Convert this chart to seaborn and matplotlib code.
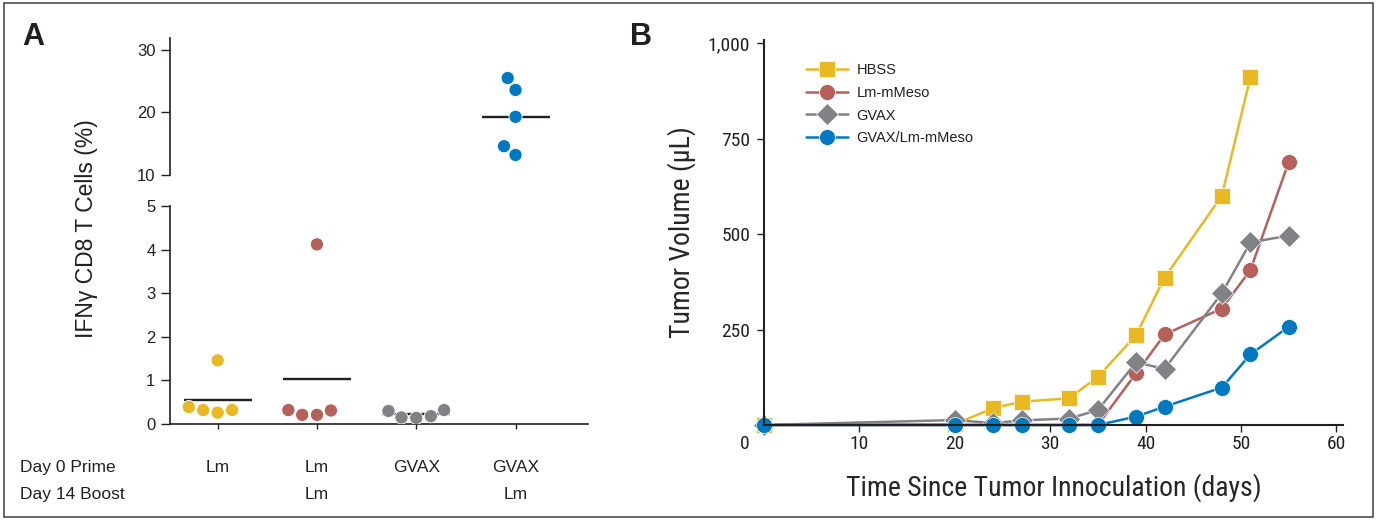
import numpy as np
import pandas as pd
import matplotlib
matplotlib.use('Agg')
import matplotlib.pyplot as plt
import matplotlib.transforms as mtransforms
from matplotlib import font_manager
from matplotlib.patches import Rectangle
from matplotlib.ticker import FuncFormatter
import seaborn as sns

# ── Panel A: IFNγ+ CD8 T cells (%) per mouse ─────────────────
groups      = ['Lm', 'Lm/Lm', 'GVAX', 'GVAX/Lm']
prime_label = ['Lm', 'Lm', 'GVAX', 'GVAX']
boost_label = ['', 'Lm', '', 'Lm']
ifn_lm      = [0.32, 0.26, 1.46, 0.32, 0.39]
ifn_lm_lm   = [0.31, 0.21, 4.12, 0.21, 0.32]
ifn_gvax    = [0.30, 0.14, 0.15, 0.18, 0.32]
ifn_gvax_lm = [25.5, 23.6, 19.3, 14.6, 13.2]

# ── Panel B: tumour volume (µL) over time ────────────────────
series_names = ['HBSS', 'Lm-mMeso', 'GVAX', 'GVAX/Lm-mMeso']
days      = [0, 20, 24, 27, 32, 35, 39, 42, 48, 51, 55]
vol_hbss  = [0, 2, 44, 61, 70, 126, 235, 386, 600, 912, np.nan]
vol_lm    = [0, 0, 0, 0, 0, 0, 135, 237, 305, 406, 688]
vol_gvax  = [0, 13, 5, 12, 17, 39, 164, 147, 345, 478, 496]
vol_combo = [0, 0, 0, 0, 0, 0, 22, 48, 98, 185, 257]

palette_a = {'Lm': '#E8B923', 'Lm/Lm': '#B5605A', 'GVAX': '#808285', 'GVAX/Lm': '#0079C1'}
palette_b = {'HBSS': '#E8B923', 'Lm-mMeso': '#B5605A', 'GVAX': '#808285', 'GVAX/Lm-mMeso': '#0079C1'}
markers_b = {'HBSS': 's', 'Lm-mMeso': 'o', 'GVAX': 'D', 'GVAX/Lm-mMeso': 'o'}

INK = '#231f20'

sns.set_style('ticks')
plt.rcParams['font.family'] = ['Liberation Sans', 'DejaVu Sans']
plt.rcParams['axes.edgecolor'] = INK
plt.rcParams['xtick.color'] = INK
plt.rcParams['ytick.color'] = INK
plt.rcParams['text.color'] = INK

# condensed face for panel B, if one is installed
cond_path = None
prefs = ['Liberation Sans Narrow', 'Roboto Condensed', 'Open Sans Condensed', 'DejaVu Sans']
for pref in prefs:
    for f in font_manager.fontManager.ttflist:
        if f.name == pref and f.style == 'normal' and f.weight in (400, 'normal', 'regular') \
                and (pref != 'DejaVu Sans' or f.stretch == 'condensed'):
            cond_path = f.fname
            break
    if cond_path:
        break


def cfont(size):
    if cond_path:
        return font_manager.FontProperties(fname=cond_path, size=size)
    return font_manager.FontProperties(family='Liberation Sans', size=size * 0.92)


W, H = 1379, 521
fig = plt.figure(figsize=(W / 100, H / 100), dpi=100)


def px_axes(left, top, right, bottom):
    return fig.add_axes([left / W, (H - bottom) / H, (right - left) / W, (bottom - top) / H])


# ── Panel A (broken y axis) ──────────────────────────────────
df_a = pd.DataFrame({
    'group': np.repeat(groups, 5),
    'value': ifn_lm + ifn_lm_lm + ifn_gvax + ifn_gvax_lm,
})

ax_top = px_axes(170, 38, 588, 175)
ax_bot = px_axes(170, 206, 588, 424)

for ax, sub in [(ax_top, df_a[df_a.value >= 10]), (ax_bot, df_a[df_a.value < 10])]:
    sns.pointplot(data=df_a, x='group', y='value', order=groups, estimator='mean',
                  errorbar=None, color=INK, marker='_', linestyle='none',
                  markersize=49, markeredgewidth=1.7, zorder=2, ax=ax)
    sns.swarmplot(data=sub, x='group', y='value', hue='group', order=groups,
                  hue_order=groups, palette=palette_a, size=9.5, edgecolor='white',
                  linewidth=0.6, legend=False, zorder=3, ax=ax)
    ax.set_xlim(-0.48, 3.73)
    ax.set_xlabel('')
    ax.set_ylabel('')
    ax.spines['top'].set_visible(False)
    ax.spines['right'].set_visible(False)
    ax.spines['left'].set_linewidth(1.2)
    ax.spines['bottom'].set_linewidth(1.2)
    ax.tick_params(axis='y', direction='out', length=6.5, width=1.0, pad=4, labelsize=12)

ax_top.set_ylim(10, 31.9)
ax_top.set_yticks([10, 20, 30])
ax_top.spines['bottom'].set_visible(False)
ax_top.tick_params(axis='x', bottom=False, labelbottom=False)

ax_bot.set_ylim(0, 5)
ax_bot.set_yticks([0, 1, 2, 3, 4, 5])
tick_len_pt, tick_pad_pt = 3.6, 22
row_fs, row_ls = 12.5, 2.05
ax_bot.set_xticks(range(len(groups)),
                  labels=[f'{p}\n{b}' for p, b in zip(prime_label, boost_label)])
ax_bot.tick_params(axis='x', direction='out', length=tick_len_pt, width=1.0, pad=tick_pad_pt)
for lbl in ax_bot.get_xticklabels():
    lbl.set_fontsize(row_fs)
    lbl.set_linespacing(row_ls)

row_tf = mtransforms.blended_transform_factory(fig.transFigure, ax_bot.transAxes) + \
    mtransforms.ScaledTranslation(0, -(tick_len_pt + tick_pad_pt) / 72, fig.dpi_scale_trans)
ax_bot.text(20 / W, 0, 'Day 0 Prime\nDay 14 Boost', transform=row_tf, ha='left', va='top',
            fontsize=row_fs, linespacing=row_ls, clip_on=False)

fig.text(86 / W, 1 - 229 / H, 'IFNγ CD8 T Cells (%)', rotation=90,
         ha='center', va='center', fontsize=16.5)
fig.text(22 / W, 1 - 45 / H, 'A', fontsize=22, fontweight='bold', va='baseline')

# ── Panel B ──────────────────────────────────────────────────
df_b = pd.DataFrame({
    'day': days * 4,
    'volume': vol_hbss + vol_lm + vol_gvax + vol_combo,
    'group': np.repeat(series_names, len(days)),
}).dropna()

axb = px_axes(764, 40, 1343, 425)
sns.lineplot(data=df_b, x='day', y='volume', hue='group', style='group',
             hue_order=series_names, style_order=series_names, palette=palette_b,
             markers=markers_b, dashes=False, markersize=11.5, linewidth=1.8,
             markeredgecolor='white', markeredgewidth=0.5, clip_on=False, ax=axb)
axb.set_xlim(0, 60.7)
axb.set_ylim(0, 1008)
axb.set_xticks([0, 10, 20, 30, 40, 50, 60])
axb.set_yticks([250, 500, 750, 1000])
axb.yaxis.set_major_formatter(FuncFormatter(lambda v, _: f'{v:,.0f}'))
for side in ['top', 'right']:
    axb.spines[side].set_visible(False)
axb.spines['left'].set_linewidth(1.5)
axb.spines['bottom'].set_linewidth(1.5)
axb.tick_params(axis='y', direction='out', length=5, width=1.0, pad=5)
axb.tick_params(axis='x', direction='out', length=5, width=1.0, pad=2)
for lbl in axb.get_xticklabels() + axb.get_yticklabels():
    lbl.set_fontproperties(cfont(14))
x0 = axb.get_xticklabels()[0]
x0.set_transform(x0.get_transform() +
                 mtransforms.ScaledTranslation(-19 / 100, 0, fig.dpi_scale_trans))

axb.set_xlabel('Time Since Tumor Innoculation (days)', fontproperties=cfont(20))
axb.set_ylabel('Tumor Volume (μL)', fontproperties=cfont(20))
axb.xaxis.set_label_coords(0.5, -0.125)
axb.yaxis.set_label_coords(-0.118, 0.5)

handles, labels = axb.get_legend_handles_labels()
keep = [(h, l) for h, l in zip(handles, labels) if l in series_names]
axb.legend([h for h, _ in keep], [l for _, l in keep], loc='upper left',
           bbox_to_anchor=(0.0725, 0.94), frameon=False, fontsize=10.5,
           borderpad=0, borderaxespad=0, labelspacing=0.6,
           handlelength=2.85, handletextpad=0.6)

fig.text(630 / W, 1 - 45 / H, 'B', fontsize=22, fontweight='bold', va='baseline')

fig.patches.append(Rectangle((4 / W, (H - 517) / H), 1369 / W, 514 / H,
                             transform=fig.transFigure, fill=False,
                             edgecolor='#4d4d4d', linewidth=1.2))

fig.savefig('out.png', dpi=100)
